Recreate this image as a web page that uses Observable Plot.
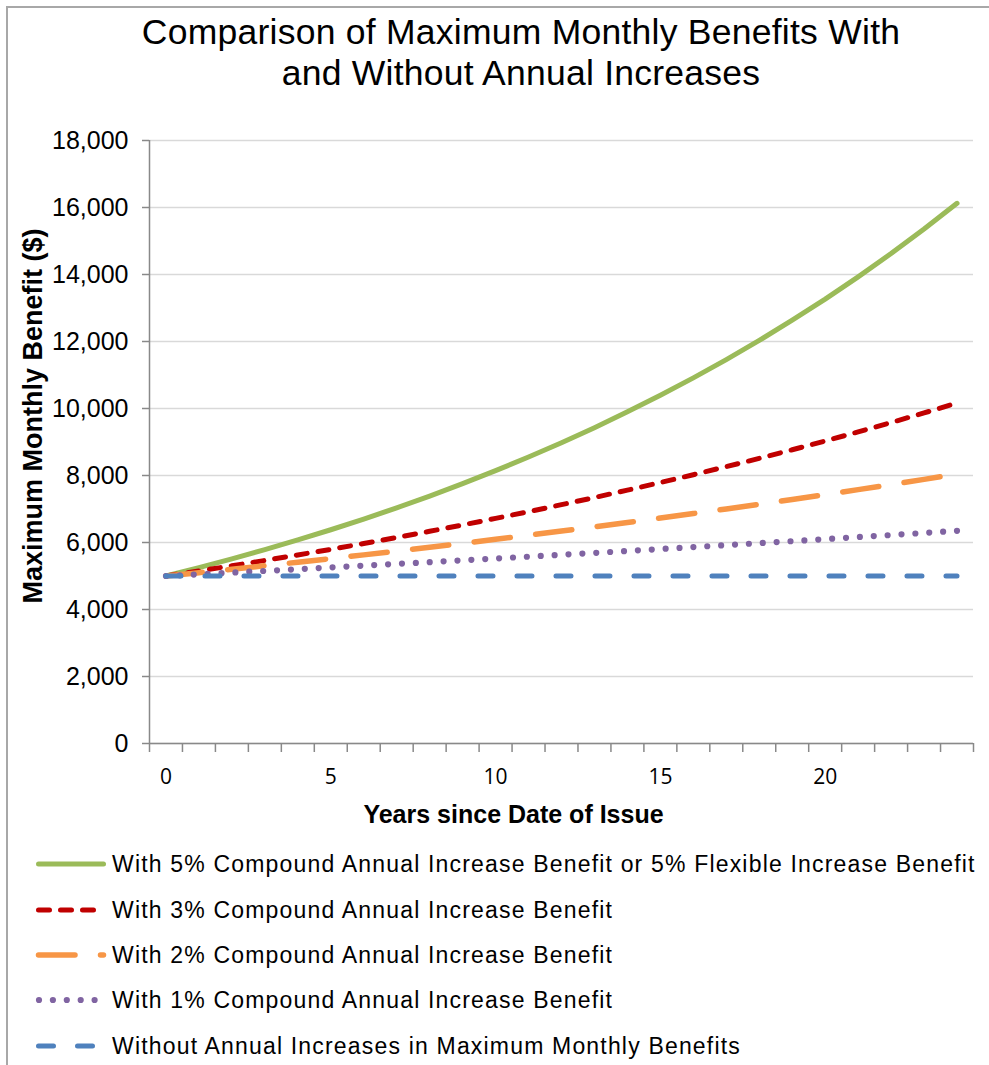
<!DOCTYPE html>
<html>
<head>
<meta charset="utf-8">
<script src="https://cdn.jsdelivr.net/npm/d3@7"></script>
<script src="https://cdn.jsdelivr.net/npm/@observablehq/plot@0.6"></script>
<style>
  html, body { margin: 0; padding: 0; background: #fff; }
  body { width: 989px; height: 1065px; position: relative; overflow: hidden;
         font-family: "Liberation Sans", Arial, sans-serif; color: #000; }
  #frame { position: absolute; left: 6px; top: 6px; width: 1100px; height: 1200px;
           border-left: 2px solid #a8a8a8; border-top: 2px solid #a8a8a8; }
  #title { position: absolute; left: 0; width: 1042px; top: 12px; text-align: center;
           font-size: 35.5px; letter-spacing: 0.25px; line-height: 41px; }
  #chart { position: absolute; left: 0; top: 100px; }
  #legend { position: absolute; left: 0; top: 0; width: 989px; }
  .row { position: absolute; left: 0; height: 40px; display: flex; align-items: center; white-space: nowrap; }
  .row span { font-size: 23px; letter-spacing: 1.18px; }
  .row svg { display: block; }
</style>
</head>
<body>
<div id="frame"></div>
<div id="title">Comparison of Maximum Monthly Benefits With<br>and Without Annual Increases</div>
<div id="chart"></div>
<div id="legend"></div>
<script>
// ---- data ----
const years = [0, 1, 2, 3, 4, 5, 6, 7, 8, 9, 10, 11, 12, 13, 14, 15, 16, 17, 18, 19, 20, 21, 22, 23, 24];
const benefit5pct = [5000, 5250, 5513, 5788, 6078, 6381, 6700, 7036, 7387, 7757, 8144, 8552, 8979, 9428, 9900, 10395, 10914, 11460, 12033, 12635, 13266, 13930, 14626, 15358, 16125];
const benefit3pct = [5000, 5150, 5305, 5464, 5628, 5796, 5970, 6149, 6334, 6524, 6720, 6921, 7129, 7343, 7563, 7790, 8024, 8264, 8512, 8768, 9031, 9302, 9581, 9868, 10164];
const benefit2pct = [5000, 5100, 5202, 5306, 5412, 5520, 5631, 5743, 5858, 5975, 6095, 6217, 6341, 6468, 6597, 6729, 6864, 7001, 7141, 7284, 7430, 7578, 7730, 7885, 8042];
const benefit1pct = [5000, 5050, 5101, 5152, 5203, 5255, 5308, 5361, 5414, 5468, 5523, 5578, 5634, 5690, 5747, 5805, 5863, 5921, 5981, 6040, 6101, 6162, 6223, 6286, 6348];
const benefitFlat = [5000, 5000, 5000, 5000, 5000, 5000, 5000, 5000, 5000, 5000, 5000, 5000, 5000, 5000, 5000, 5000, 5000, 5000, 5000, 5000, 5000, 5000, 5000, 5000, 5000];
const seriesNames = [
  "With 5% Compound Annual Increase Benefit or 5% Flexible Increase Benefit",
  "With 3% Compound Annual Increase Benefit",
  "With 2% Compound Annual Increase Benefit",
  "With 1% Compound Annual Increase Benefit",
  "Without Annual Increases in Maximum Monthly Benefits"
];
const yTicks = [0, 2000, 4000, 6000, 8000, 10000, 12000, 14000, 16000, 18000];
const xTickLabels = [0, 5, 10, 15, 20];
const titleY = "Maximum Monthly Benefit ($)";
const titleX = "Years since Date of Issue";

// ---- styles ----
const seriesValues = [benefit5pct, benefit3pct, benefit2pct, benefit1pct, benefitFlat];
const seriesStyle = [
  {stroke: "#9BBB59", width: 5, dash: null},
  {stroke: "#C00000", width: 5, dash: "11,11"},
  {stroke: "#F79646", width: 5.5, dash: "36.5,25.5"},
  {stroke: "#8064A2", width: 6.2, dash: "0,13.9"},
  {stroke: "#4F81BD", width: 5, dash: "15,24"}
];
const series = seriesNames.map((name, k) => ({
  name, ...seriesStyle[k],
  data: years.map((x, i) => ({x, y: seriesValues[k][i]}))
}));
const xBounds = years.map(d => d - 0.5).concat([years[years.length - 1] + 0.5]);
const axisColor = "#898989";

const chart = Plot.plot({
  width: 989, height: 745,
  marginTop: 40, marginBottom: 102, marginLeft: 149, marginRight: 16,
  x: {domain: [xBounds[0], xBounds[xBounds.length - 1]]},
  y: {domain: [0, 18000]},
  style: {fontFamily: "'Liberation Sans', Arial, sans-serif", background: "transparent", overflow: "visible", color: "#000"},
  marks: [
    Plot.gridY(yTicks, {stroke: "#d9d9d9", strokeOpacity: 1, strokeWidth: 1.5}),
    Plot.axisY(yTicks, {tickSize: 7, tickFormat: () => "", stroke: axisColor, strokeWidth: 1.5, strokeOpacity: 1, label: null}),
    Plot.axisX(xBounds, {tickSize: 9, tickFormat: () => "", stroke: axisColor, strokeWidth: 1.5, strokeOpacity: 1, label: null}),
    Plot.ruleY([0], {stroke: axisColor, strokeWidth: 1.5}),
    Plot.ruleX([xBounds[0]], {stroke: axisColor, strokeWidth: 1.5}),
    Plot.text(yTicks, {y: d => d, text: d => d3.format(",")(d), frameAnchor: "left", dx: -21,
      textAnchor: "end", lineAnchor: "middle", fontSize: 25, fill: "#000"}),
    Plot.text(xTickLabels, {x: d => d, text: d => String(d), frameAnchor: "bottom", dy: 34,
      lineAnchor: "middle", fontSize: 21, fontFamily: "'Open Sans', sans-serif", fill: "#000"}),
    Plot.text([titleX], {text: d => d, frameAnchor: "bottom", dx: -48, dy: 71, lineAnchor: "middle",
      fontSize: 25, fontWeight: "bold", fill: "#000"}),
    Plot.text([titleY], {text: d => d, frameAnchor: "left", rotate: -90, dx: -116, dy: -26,
      lineAnchor: "middle", textAnchor: "middle", fontSize: 27, fontWeight: "bold", fill: "#000"}),
    ...series.map(s => Plot.line(s.data, {x: "x", y: "y", stroke: s.stroke, strokeWidth: s.width,
      strokeDasharray: s.dash, strokeLinecap: "round", strokeLinejoin: "round"}))
  ]
});
document.getElementById("chart").appendChild(chart);

// ---- legend ----
const legendCenters = [864, 910, 955, 1000, 1046];
const legend = document.getElementById("legend");
series.forEach((s, k) => {
  const row = document.createElement("div");
  row.className = "row";
  row.style.top = (legendCenters[k] - 20) + "px";
  const sw = d3.create("svg").attr("width", 112).attr("height", 40);
  sw.append("line").attr("x1", s.dash === "0,13.9" ? 39 : 38.5).attr("x2", 103.5).attr("y1", 20).attr("y2", 20)
    .attr("stroke", s.stroke).attr("stroke-width", s.width)
    .attr("stroke-dasharray", s.dash).attr("stroke-linecap", "round");
  row.appendChild(sw.node());
  const span = document.createElement("span");
  span.textContent = s.name;
  row.appendChild(span);
  legend.appendChild(row);
});
</script>
</body>
</html>
